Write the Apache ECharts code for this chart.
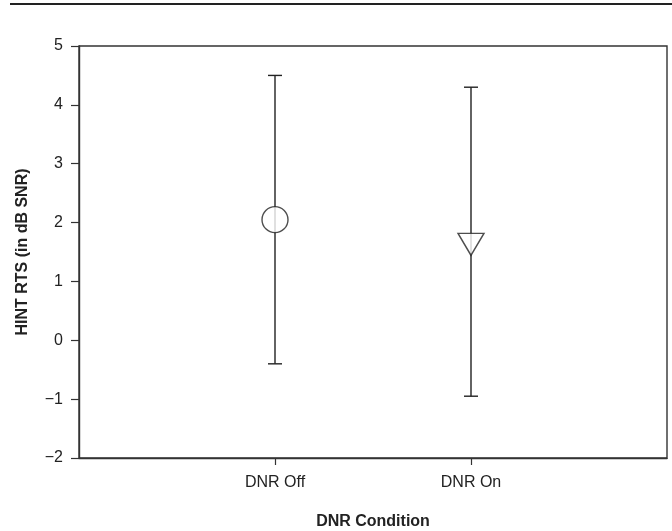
<!DOCTYPE html>
<html>
<head>
<meta charset="utf-8">
<script src="https://cdn.jsdelivr.net/npm/echarts@6/dist/echarts.min.js"></script>
<style>
  html, body { margin: 0; padding: 0; background: #fff; }
  #chart { width: 672px; height: 531px; }
</style>
</head>
<body>
<div id="chart"></div>
<script>
// Hearing-in-noise test results by DNR condition: mean with error range
const categories = ['DNR Off', 'DNR On'];
const positions = [1, 2];          // x-axis slots for each condition
const means = [2.05, 1.63];
const upper = [4.5, 4.3];
const lower = [-0.4, -0.95];
const markers = ['circle', 'triangle'];
const yTicks = [-2, -1, 0, 1, 2, 3, 4, 5];

const FONT = 'Liberation Sans, Arial, sans-serif';
const INK = '#222';
const FRAME = '#333';

const chart = echarts.init(document.getElementById('chart'), null, { renderer: 'canvas' });

const barData = positions.map((x, i) => [x, lower[i], upper[i]]);
const pointData = positions.map((x, i) => {
  const isTri = markers[i] === 'triangle';
  return {
    value: [x, means[i]],
    symbol: markers[i],
    symbolSize: isTri ? [26, 22] : 26,
    symbolRotate: isTri ? 180 : 0
  };
});

const option = {
  animation: false,
  backgroundColor: '#fff',
  textStyle: { fontFamily: FONT },
  graphic: [{
    type: 'line',
    shape: { x1: 10, y1: 4, x2: 672, y2: 4 },
    style: { stroke: INK, lineWidth: 2 }
  }],
  grid: {
    left: 79, right: 5, top: 46, bottom: 73,
    outerBoundsMode: 'none',
    containLabel: false,
    show: true, borderColor: FRAME, borderWidth: 1.4, backgroundColor: 'transparent'
  },
  xAxis: {
    type: 'value', min: 0, max: 3, interval: 1,
    name: 'DNR Condition', nameLocation: 'middle', nameGap: 56,
    nameTextStyle: { fontFamily: FONT, fontSize: 16, fontWeight: 'bold', color: INK },
    axisLine: { show: true, onZero: false, lineStyle: { color: FRAME, width: 1.4 } },
    axisTick: { show: true, length: 7, customValues: positions, lineStyle: { color: FRAME, width: 1.2 } },
    axisLabel: {
      customValues: positions,
      fontFamily: FONT, fontSize: 16, color: INK, margin: 17,
      formatter: v => categories[positions.indexOf(v)] || ''
    },
    splitLine: { show: false }
  },
  yAxis: {
    type: 'value', min: -2, max: 5, interval: 1,
    name: 'HINT RTS (in dB SNR)', nameLocation: 'middle', nameGap: 48,
    nameTextStyle: { fontFamily: FONT, fontSize: 16, fontWeight: 'bold', color: INK },
    axisLine: { show: true, onZero: false, lineStyle: { color: FRAME, width: 1.4 } },
    axisTick: { show: true, length: 8, customValues: yTicks, lineStyle: { color: FRAME, width: 1.2 } },
    axisLabel: {
      customValues: yTicks,
      fontFamily: FONT, fontSize: 16, color: INK, margin: 16,
      formatter: v => String(v).replace('-', '\u2212')
    },
    splitLine: { show: false }
  },
  series: [
    {
      type: 'custom',
      z: 1,
      data: barData,
      renderItem: (params, api) => {
        const x = api.value(0);
        const lo = api.coord([x, api.value(1)]);
        const hi = api.coord([x, api.value(2)]);
        const cap = 7;
        const style = { stroke: INK, lineWidth: 1.4 };
        return {
          type: 'group',
          children: [
            { type: 'line', shape: { x1: lo[0], y1: lo[1], x2: hi[0], y2: hi[1] }, style },
            { type: 'line', shape: { x1: hi[0] - cap, y1: hi[1], x2: hi[0] + cap, y2: hi[1] }, style },
            { type: 'line', shape: { x1: lo[0] - cap, y1: lo[1], x2: lo[0] + cap, y2: lo[1] }, style }
          ]
        };
      }
    },
    {
      type: 'scatter',
      z: 2,
      data: pointData,
      itemStyle: { color: '#fff', borderColor: INK, borderWidth: 1.4 }
    }
  ]
};

chart.setOption(option);
</script>
</body>
</html>
